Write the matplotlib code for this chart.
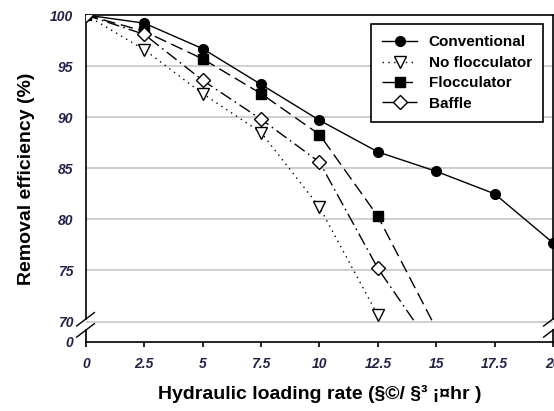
import numpy as np
import matplotlib.pyplot as plt
from matplotlib.patches import Rectangle

plt.rcParams['font.family'] = ['Liberation Sans', 'DejaVu Sans']

# hydraulic loading rate
x_rate = [0, 2.5, 5, 7.5, 10, 12.5, 15, 17.5, 20]
x_short = [0, 2.5, 5, 7.5, 10, 12.5, 15]

# removal efficiency (%)
conventional = [100, 99.2, 96.7, 93.2, 89.7, 86.6, 84.7, 82.5, 77.7]
no_flocculator = [100, 96.6, 92.3, 88.5, 81.2, 70.6, 60.0]
flocculator = [100, 98.4, 95.7, 92.3, 88.3, 80.3, 69.3]
baffle = [100, 98.1, 93.6, 89.8, 85.6, 75.2, 66.9]

series_names = ['Conventional', 'No flocculator', 'Flocculator', 'Baffle']

x_ticks = [0, 2.5, 5, 7.5, 10, 12.5, 15, 17.5, 20]
x_ticklabels = ['0', '2.5', '5', '7.5', '10', '12.5', '15', '17.5', '20']
y_ticks = [68, 70, 75, 80, 85, 90, 95, 100]
y_ticklabels = ['0', '70', '75', '80', '85', '90', '95', '100']

fig = plt.figure(figsize=(5.54, 4.11), dpi=100)
ax = fig.add_axes([0.1552, 0.1679, 0.8430, 0.7956])

# region above the axis break, lines are cut at 70
clip = Rectangle((0, 70), 20, 30, transform=ax.transData)

styles = [
    (x_rate, conventional, dict(ls='-', marker='o', mfc='black', ms=7)),
    (x_short, no_flocculator, dict(ls=(0, (1, 3.2)), marker='v', mfc='white', ms=8)),
    (x_short, flocculator, dict(ls=(0, (9, 4)), marker='s', mfc='black', ms=7)),
    (x_short, baffle, dict(ls=(0, (9, 3, 1.2, 3)), marker='D', mfc='white', ms=7)),
]
for (xs, ys, st), name in zip(styles, series_names):
    line, = ax.plot(xs, ys, color='black', lw=1.0, mec='black', mew=1.0,
                    label=name, zorder=3, **st)
    line.set_clip_path(clip)

ax.set_xlim(0, 20)
ax.set_ylim(68, 100)

for g in [70, 75, 80, 85, 90, 95]:
    ax.axhline(g, color='#cccccc', lw=1.3, zorder=1)

ax.set_xticks(x_ticks)
ax.set_xticklabels(x_ticklabels)
ax.set_yticks(y_ticks)
ax.set_yticklabels(y_ticklabels)
tick_font = dict(fontsize=10, fontweight='bold', fontstyle='italic', color='#22224a')
for lab in ax.get_xticklabels() + ax.get_yticklabels():
    lab.set(**tick_font)
ax.tick_params(axis='x', direction='out', length=3.5, width=1.2, pad=7)
ax.tick_params(axis='y', length=0, pad=9)

# spines with axis breaks
for s in ['left', 'right']:
    ax.spines[s].set_visible(False)
for s in ['top', 'bottom']:
    ax.spines[s].set_linewidth(1.2)
for xe in [0, 1]:
    ax.plot([xe, xe], [0.070, 1], transform=ax.transAxes, color='black', lw=1.2, clip_on=False)
    ax.plot([xe, xe], [0, 0.038], transform=ax.transAxes, color='black', lw=1.2, clip_on=False)
    for y0 in [0.049, 0.015]:
        ax.plot([xe - 0.020, xe + 0.018], [y0, y0 + 0.041], transform=ax.transAxes,
                color='black', lw=1.0, clip_on=False)

ax.set_ylabel('Removal efficiency (%)', fontsize=14, fontweight='bold', labelpad=11)
ax.set_xlabel('Hydraulic loading rate (§©/ §³ ¡¤hr )', fontsize=14, fontweight='bold', labelpad=10)

leg = ax.legend(loc='upper right', bbox_to_anchor=(0.979, 0.9725), borderaxespad=0,
                fancybox=False, edgecolor='black', framealpha=1, handlelength=2.3,
                handletextpad=0.75, borderpad=0.75, labelspacing=0.42,
                prop=dict(size=11, weight='bold'))
leg.get_frame().set_linewidth(1.2)

fig.savefig('out.png', dpi=100)
